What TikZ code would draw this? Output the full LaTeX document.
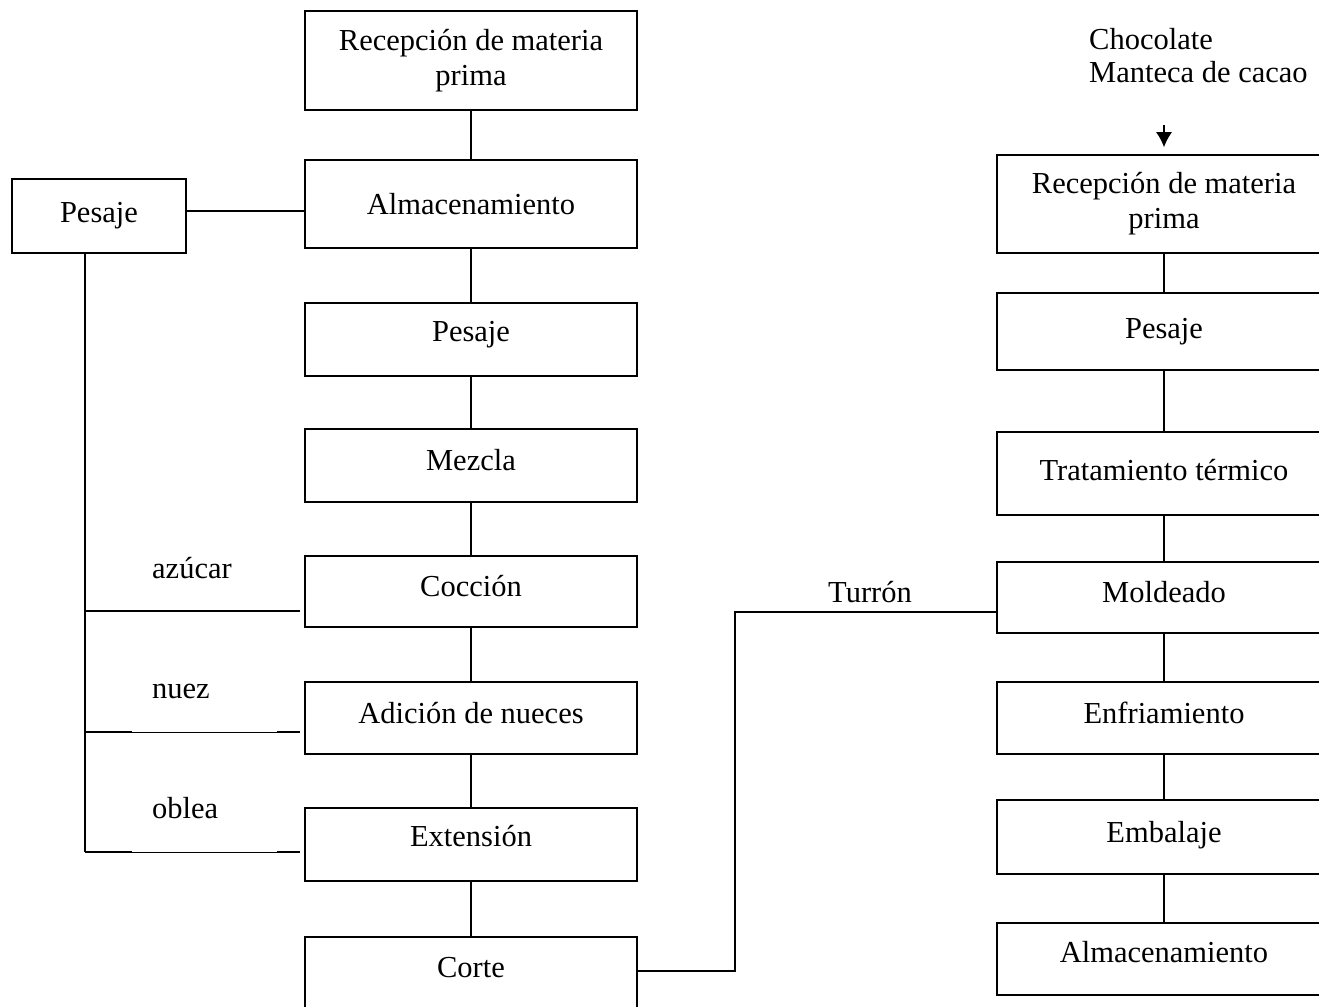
\documentclass[tikz,border=0pt]{standalone}
\usepackage{fontspec}
\setmainfont{Liberation Serif}
\usetikzlibrary{arrows.meta}
\tikzset{
  every node/.style={font=\fontsize{30.5}{35}\selectfont},
  box/.style={draw, line width=1.5pt, inner sep=0pt, align=center},
  lbox/.style={box, minimum width=332pt},
  rbox/.style={box, minimum width=334pt},
  td/.style={text height=22pt, text depth=#1},
  conn/.style={line width=1.5pt},
  thin/.style={line width=0.9pt},
  lbl/.style={anchor=base west, inner sep=0pt}
}
\begin{document}
\begin{tikzpicture}[x=1pt,y=-1pt]
\useasboundingbox (0,0) rectangle (1319,1006);
\clip (0,0) rectangle (1319,1006);
% left column
\node[lbox, minimum height=99pt] (rec1) at (471,60.5) {Recepción de materia\\prima};
\node[lbox, minimum height=88pt] (alm1) at (471,204) {Almacenamiento};
\node[lbox, minimum height=73pt, td=18.4pt] (pes1) at (471,339.5) {Pesaje};
\node[lbox, minimum height=73pt, td=11.2pt] (mez) at (471,465.5) {Mezcla};
\node[lbox, minimum height=71pt, td=13pt] (coc) at (471,591.5) {Cocción};
\node[lbox, minimum height=72pt, td=11.2pt] (adi) at (471,718) {Adición de nueces};
\node[lbox, minimum height=73pt, td=18pt] (ext) at (471,844.5) {Extensión};
\node[lbox, minimum height=80pt, anchor=north, text depth=18pt] (cor) at (471,936) {Corte};
\node[box, minimum width=174pt, minimum height=74pt] (pesL) at (99,216) {Pesaje};
% right column
\node[rbox, minimum height=98pt] (rec2) at (1164,204) {Recepción de materia\\prima};
\node[rbox, minimum height=77pt] (pes2) at (1164,331.5) {Pesaje};
\node[rbox, minimum height=83pt, td=7.2pt] (tra) at (1164,473.5) {Tratamiento térmico};
\node[rbox, minimum height=71pt, td=11.2pt] (mol) at (1164,597.5) {Moldeado};
\node[rbox, minimum height=72pt, td=11.2pt] (enf) at (1164,718) {Enfriamiento};
\node[rbox, minimum height=74pt, td=11.8pt] (emb) at (1164,837) {Embalaje};
\node[rbox, minimum height=72pt, td=15.2pt] (alm2) at (1164,959) {Almacenamiento};
% labels
\node[lbl] (tazu) at (152,578) {azúcar};
\node[lbl] (tnuez) at (152,698) {nuez};
\node[lbl] (tobl) at (152,818) {oblea};
\node[lbl] (ttur) at (828,602) {Turrón};
\node[lbl] (tcho) at (1089,50) {Chocolate};
\node[lbl] (tman) at (1089,83) {Manteca de cacao};
% left vertical connectors
\draw[conn] (rec1) -- (alm1);
\draw[conn] (alm1) -- (pes1);
\draw[conn] (pes1) -- (mez);
\draw[conn] (mez) -- (coc);
\draw[conn] (coc) -- (adi);
\draw[conn] (adi) -- (ext);
\draw[conn] (ext) -- (cor);
% right vertical connectors
\draw[conn] (rec2) -- (pes2);
\draw[conn] (pes2) -- (tra);
\draw[conn] (tra) -- (mol);
\draw[conn] (mol) -- (enf);
\draw[conn] (enf) -- (emb);
\draw[conn] (emb) -- (alm2);
% pesaje side branch
\coordinate (pa) at (186,211);
\draw[conn] (pa) -- (pa -| alm1.west);
\coordinate (vtop) at (85,253);
\coordinate (v1) at (85,611);
\coordinate (v2) at (85,732);
\coordinate (v3) at (85,852);
\coordinate (e1) at (300,611);
\coordinate (e2) at (300,732);
\coordinate (e3) at (300,852);
\draw[conn] (vtop) -- (v3);
\draw[conn] (v1) -- (e1);
\draw[conn] (v2) -- (132,732);
\draw[thin] (132,732) -- (277,732);
\draw[conn] (277,732) -- (e2);
\draw[conn] (v3) -- (132,852);
\draw[thin] (132,852) -- (277,852);
\draw[conn] (277,852) -- (e3);
% corte to moldeado
\coordinate (c1) at (637,971);
\coordinate (c2) at (735,971);
\coordinate (c3) at (735,612);
\draw[conn] (c1) -- (c2) -- (c3) -- (c3 -| mol.west);
% arrow
\coordinate (atop) at (1164,125);
\draw[conn, -{Latex[length=15pt,width=16pt]}, shorten >=7pt] (atop) -- (rec2.north);
\end{tikzpicture}
\end{document}
